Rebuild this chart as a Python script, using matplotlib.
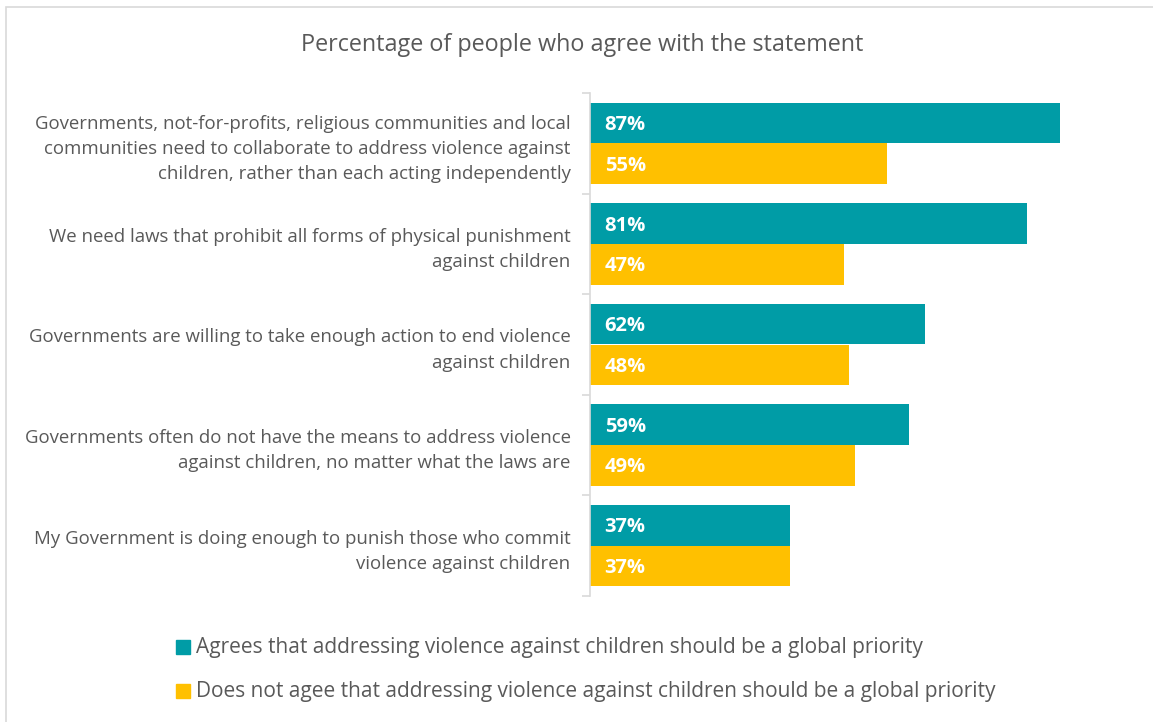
import matplotlib
matplotlib.use("Agg")
import matplotlib.pyplot as plt
from matplotlib.patches import Rectangle
import numpy as np

plt.rcParams['font.family'] = ['Open Sans', 'DejaVu Sans']

categories = [
    "Governments, not-for-profits, religious communities and local\ncommunities need to collaborate to address violence against\nchildren, rather than each acting independently",
    "We need laws that prohibit all forms of physical punishment\nagainst children",
    "Governments are willing to take enough action to end violence\nagainst children",
    "Governments often do not have the means to address violence\nagainst children, no matter what the laws are",
    "My Government is doing enough to punish those who commit\nviolence against children",
]
agree = [87, 81, 62, 59, 37]
not_agree = [55, 47, 48, 49, 37]
series_names = [
    "Agrees that addressing violence against children should be a global priority",
    "Does not agee that addressing violence against children should be a global priority",
]
title = "Percentage of people who agree with the statement"

teal = "#009CA6"
yellow = "#FFC000"
gray = "#595959"

W, H = 1153, 722
fig = plt.figure(figsize=(W/100, H/100), dpi=100)
fig.patches.append(Rectangle((6/W, -0.01), 1 - 6/W + 0.01, 1 - 7/H + 0.01, transform=fig.transFigure,
                             fill=False, edgecolor="#D9D9D9", linewidth=1.2))

ax = fig.add_axes([590/W, 1 - 596/H, (1130-590)/W, (596-93)/H])
n = len(categories)
y = np.arange(n)
bh = 0.405
ax.barh(y - bh/2, agree, height=bh, color=teal)
ax.barh(y + bh/2, not_agree, height=bh, color=yellow)
ax.set_xlim(0, 100)
ax.set_ylim(n - 0.5, -0.5)

for i in range(n):
    ax.text(2.7, y[i] - bh/2 + 0.02, f"{agree[i]}%", color="white", fontweight="bold",
            fontsize=14.5, va="center", ha="left")
    ax.text(2.7, y[i] + bh/2 + 0.02, f"{not_agree[i]}%", color="white", fontweight="bold",
            fontsize=14.5, va="center", ha="left")

ax.set_xticks([])
ax.set_yticks(y)
ax.set_yticklabels(categories, fontsize=13.4, color=gray, linespacing=1.5)
ax.set_yticks(np.arange(n + 1) - 0.5, minor=True)
ax.tick_params(axis="y", which="major", length=0, pad=14)
ax.tick_params(axis="y", which="minor", length=6, color="#D9D9D9", width=1.2)
for s in ["top", "right", "bottom"]:
    ax.spines[s].set_visible(False)
ax.spines["left"].set_color("#D9D9D9")
ax.spines["left"].set_linewidth(1.2)

fig.text(582/W, 1 - 45/H, title, ha="center", va="center", fontsize=16.8, color=gray)

for j, (name, col) in enumerate(zip(series_names, [teal, yellow])):
    yy = 647 + 44 * j
    fig.patches.append(Rectangle((176/W, 1 - (yy + 7)/H), 14/W, 14/H,
                                 transform=fig.transFigure, color=col))
    fig.text(196/W, 1 - yy/H, name, ha="left", va="center", fontsize=15, color=gray)

fig.savefig("out.png", dpi=100)
